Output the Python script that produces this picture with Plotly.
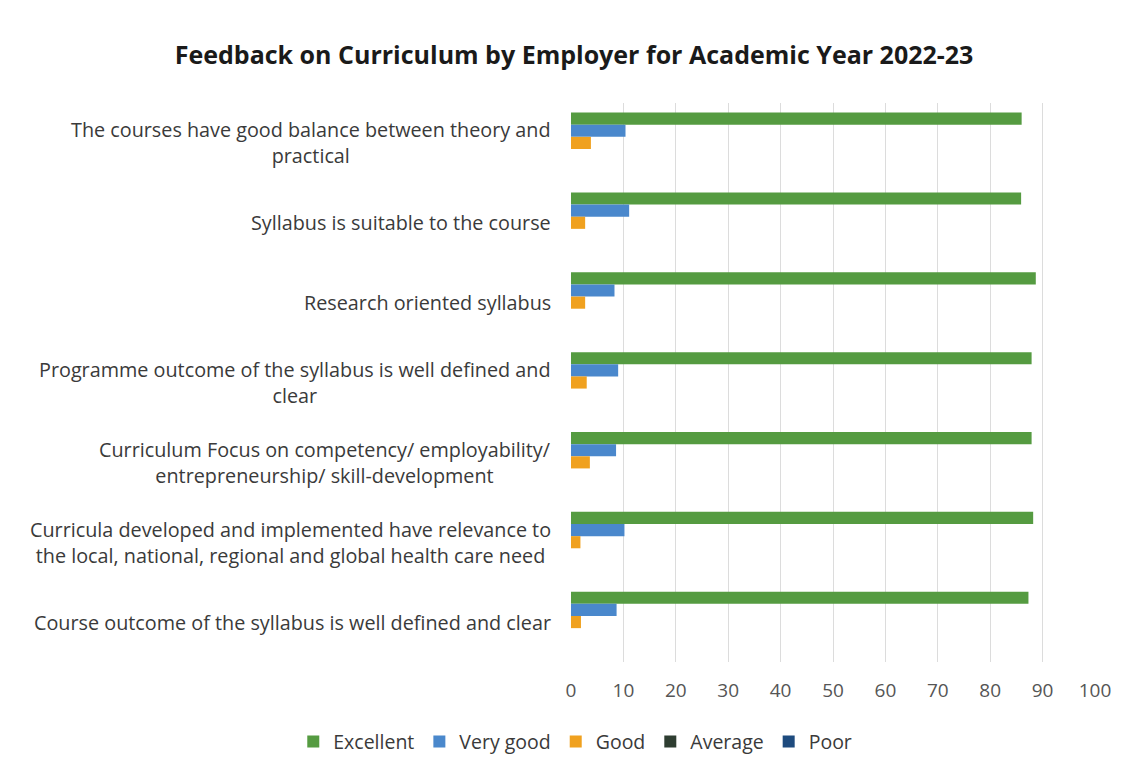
import plotly.graph_objects as go

categories = [
    "The courses have good balance between theory and<br>practical",
    "Syllabus is suitable to the course",
    "Research oriented syllabus",
    "Programme outcome of the syllabus is well defined and<br>clear",
    "Curriculum Focus on competency/ employability/<br>entrepreneurship/ skill-development",
    "Curricula developed and implemented have relevance to<br>the local, national, regional and global health care need",
    "Course outcome of the syllabus is well defined and clear",
]
series_names = ["Excellent", "Very good", "Good", "Average", "Poor"]
excellent = [86.0, 85.9, 88.7, 87.9, 87.9, 88.2, 87.3]
very_good = [10.4, 11.1, 8.3, 9.0, 8.6, 10.2, 8.7]
good = [3.8, 2.7, 2.7, 3.0, 3.6, 1.8, 1.9]
average = [0, 0, 0, 0, 0, 0, 0]
poor = [0, 0, 0, 0, 0, 0, 0]
x_ticks = [0, 10, 20, 30, 40, 50, 60, 70, 80, 90, 100]

colors = ["#559B41", "#4A88CC", "#F0A11F", "#2E3D31", "#1E4B7E"]
values = [excellent, very_good, good, average, poor]

fig = go.Figure()
for name, vals, col in zip(series_names, values, colors):
    fig.add_trace(go.Bar(
        y=categories, x=vals, name=name, orientation="h",
        marker=dict(color=col, line=dict(width=0)),
    ))

font_family = "'Open Sans', sans-serif"

for cat in categories:
    fig.add_annotation(
        x=0, y=cat, xref="paper", yref="y", xanchor="right", yanchor="middle",
        xshift=-18, text=cat, showarrow=False, align="center",
        font=dict(family=font_family, size=19.8, color="#3a3a3a"),
    )

fig.update_layout(
    width=1121, height=765,
    paper_bgcolor="white", plot_bgcolor="white",
    margin=dict(l=563, r=34, t=95, b=111, autoexpand=False),
    barmode="group", bargap=0.24, bargroupgap=0,
    title=dict(
        text="<b>Feedback on Curriculum by Employer for Academic Year 2022-23</b>",
        x=0.505, xanchor="center", y=0.9386, yanchor="middle",
        font=dict(family=font_family, size=25, color="#1a1a1a"),
    ),
    xaxis=dict(
        range=[0, 100], tickvals=x_ticks, showgrid=True, gridcolor="#DCDCDC",
        gridwidth=1, zeroline=False, showline=False, ticks="",
        tickfont=dict(family=font_family, size=19, color="#555555"),
        ticklabelstandoff=15,
    ),
    yaxis=dict(
        autorange="reversed", showticklabels=False, showgrid=False,
        zeroline=False, showline=False, ticks="",
    ),
    legend=dict(
        orientation="h",
        x=-0.53, xanchor="left", y=-0.143, yanchor="middle",
        font=dict(family=font_family, size=19.5, color="#3a3a3a"),
        traceorder="normal", itemwidth=30,
    ),
    showlegend=True,
)

fig.write_html("out.html")
